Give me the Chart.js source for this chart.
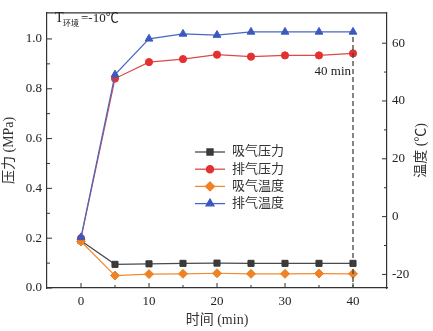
<!DOCTYPE html>
<html>
<head>
<meta charset="utf-8">
<script src="https://cdn.jsdelivr.net/npm/chart.js@4"></script>
<style>
  html, body { margin: 0; padding: 0; background: #fff; }
  #c { display: block; }
</style>
</head>
<body>
<canvas id="c" width="433" height="331"></canvas>
<script>
// data
const times = [0, 5, 10, 15, 20, 25, 30, 35, 40];
const suctionPressure = [0.19, 0.095, 0.097, 0.099, 0.1, 0.099, 0.099, 0.099, 0.099];
const dischargePressure = [0.2, 0.841, 0.907, 0.919, 0.937, 0.929, 0.934, 0.934, 0.942];
const suctionTemp = [-8.6, -20.4, -19.9, -19.8, -19.6, -19.8, -19.8, -19.7, -19.8];
const dischargeTemp = [-7.2, 49.1, 61.5, 63.2, 62.8, 63.9, 63.9, 63.9, 63.9];

const xTicks = [0, 10, 20, 30, 40];
const xMinor = [5, 15, 25, 35];
const pTicks = [0.0, 0.2, 0.4, 0.6, 0.8, 1.0];
const pMinor = [0.1, 0.3, 0.5, 0.7, 0.9];
const tTicks = [-20, 0, 20, 40, 60];
const tMinor = [-10, 10, 30, 50];

const seriesNames = ['吸气压力', '排气压力', '吸气温度', '排气温度'];

// Latin glyphs in a Times-like face, CJK falls back to Noto
const serif = '"Liberation Serif", "Times New Roman", "Noto Sans CJK SC", serif';
const cjk = '"Noto Sans CJK SC", "Liberation Serif", sans-serif';

const pts = (ys) => times.map((t, i) => ({ x: t, y: ys[i] }));

const decor = {
    id: 'decor',
    afterDraw: (chart) => {
        const ctx = chart.ctx;
        const a = chart.chartArea;
        const sx = chart.scales.x, sy = chart.scales.y, st = chart.scales.y1;
        ctx.save();
        ctx.strokeStyle = '#333';
        ctx.lineWidth = 1.2;
        // top frame line
        ctx.beginPath();
        ctx.moveTo(a.left, a.top);
        ctx.lineTo(a.right, a.top);
        ctx.stroke();

        // inward ticks
        const tick = (len, list, fn) => list.forEach(v => fn(v, len));
        ctx.lineWidth = 1;
        ctx.beginPath();
        const xt = (v, len) => { const p = sx.getPixelForValue(v); ctx.moveTo(p, a.bottom); ctx.lineTo(p, a.bottom - len); };
        const yt = (v, len) => { const p = sy.getPixelForValue(v); ctx.moveTo(a.left, p); ctx.lineTo(a.left + len, p); };
        const tt = (v, len) => { const p = st.getPixelForValue(v); ctx.moveTo(a.right, p); ctx.lineTo(a.right - len, p); };
        tick(5, xTicks, xt); tick(3, xMinor, xt);
        tick(5, pTicks, yt); tick(3, pMinor, yt);
        tick(5, tTicks, tt); tick(3, tMinor, tt);
        ctx.stroke();

        // dashed marker at 40 min
        const x40 = sx.getPixelForValue(40);
        ctx.setLineDash([5, 3]);
        ctx.lineWidth = 1.3;
        ctx.strokeStyle = '#444';
        ctx.beginPath();
        ctx.moveTo(x40, st.getPixelForValue(dischargeTemp[dischargeTemp.length - 1]) + 5);
        ctx.lineTo(x40, a.bottom);
        ctx.stroke();
        ctx.setLineDash([]);

        ctx.fillStyle = '#222';
        ctx.textBaseline = 'middle';
        ctx.textAlign = 'right';
        ctx.font = '13px ' + serif;
        ctx.fillText('40 min', x40 - 2, 72);

        // ambient temperature note
        ctx.textAlign = 'left';
        ctx.textBaseline = 'alphabetic';
        ctx.font = '14px ' + serif;
        ctx.fillText('T', 55, 22);
        ctx.font = '8px ' + cjk;
        ctx.fillText('环境', 63, 26);
        ctx.font = '13px ' + serif;
        ctx.fillText('=-10℃', 81, 22);

        // axis titles
        ctx.fillStyle = '#333';
        ctx.textAlign = 'center';
        ctx.textBaseline = 'middle';
        ctx.font = '14px ' + serif;
        ctx.fillText('时间 (min)', (a.left + a.right) / 2, 320);
        ctx.save();
        ctx.translate(9, (a.top + a.bottom) / 2);
        ctx.rotate(-Math.PI / 2);
        ctx.fillText('压力 (MPa)', 0, 0);
        ctx.restore();
        ctx.save();
        ctx.translate(421, (a.top + a.bottom) / 2);
        ctx.rotate(-Math.PI / 2);
        ctx.fillText('温度 (℃)', 0, 0);
        ctx.restore();

        // legend: line + marker + label
        const order = [3, 2, 1, 0]; // datasets are stored top-most first
        order.forEach((di, row) => {
            const ds = chart.data.datasets[di];
            const y = 152 + row * 17.2;
            ctx.strokeStyle = ds.borderColor;
            ctx.lineWidth = 1.3;
            ctx.beginPath();
            ctx.moveTo(195, y);
            ctx.lineTo(225, y);
            ctx.stroke();
            ctx.fillStyle = ds.pointBackgroundColor;
            ctx.strokeStyle = ds.pointBorderColor;
            Chart.helpers.drawPoint(ctx, {
                pointStyle: ds.pointStyle,
                radius: ds.pointRadius,
                rotation: 0,
                borderWidth: 1
            }, 210, y);
            ctx.fillStyle = '#333';
            ctx.textAlign = 'left';
            ctx.font = '13px ' + serif;
            ctx.fillText(ds.label, 232, y);
        });
        ctx.restore();
    }
};

const canvas = document.getElementById('c');
const ctx = canvas.getContext('2d');

new Chart(ctx, {
    type: 'line',
    data: {
        datasets: [
            {
                label: seriesNames[3],
                data: pts(dischargeTemp),
                yAxisID: 'y1',
                borderColor: '#4a66c4',
                pointBackgroundColor: '#3a58bd',
                pointBorderColor: '#3a58bd',
                pointStyle: 'triangle',
                pointRadius: 4.5,
            },
            {
                label: seriesNames[2],
                data: pts(suctionTemp),
                yAxisID: 'y1',
                borderColor: '#ef8c33',
                pointBackgroundColor: '#ee8225',
                pointBorderColor: '#ee8225',
                pointStyle: 'rectRot',
                pointRadius: 4.5,
            },
            {
                label: seriesNames[1],
                data: pts(dischargePressure),
                yAxisID: 'y',
                borderColor: '#dc4a48',
                pointBackgroundColor: '#e3312f',
                pointBorderColor: '#e3312f',
                pointStyle: 'circle',
                pointRadius: 3.6,
            },
            {
                label: seriesNames[0],
                data: pts(suctionPressure),
                yAxisID: 'y',
                borderColor: '#4a4a4a',
                pointBackgroundColor: '#3a3a3a',
                pointBorderColor: '#3a3a3a',
                pointStyle: 'rect',
                pointRadius: 4.3,
            },
        ].map(d => Object.assign({ borderWidth: 1.2, pointBorderWidth: 1, tension: 0, fill: false }, d))
    },
    options: {
        responsive: false,
        animation: false,
        devicePixelRatio: 1,
        layout: { padding: { top: 5, right: 0, bottom: 0, left: 0 } },
        plugins: {
            legend: { display: false },
            tooltip: { enabled: false }
        },
        scales: {
            x: {
                type: 'linear',
                min: -5,
                max: 45,
                afterBuildTicks: (s) => { s.ticks = xTicks.map(v => ({ value: v })); },
                afterFit: (s) => { s.height = 43; },
                grid: { drawOnChartArea: false, drawTicks: false },
                border: { color: '#333', width: 1.2 },
                ticks: { padding: 6, color: '#222', font: { family: serif, size: 13 }, maxRotation: 0 }
            },
            y: {
                position: 'left',
                min: 0,
                max: 1.105,
                afterBuildTicks: (s) => { s.ticks = pTicks.map(v => ({ value: v })); },
                afterFit: (s) => { s.width = 47; },
                grid: { drawOnChartArea: false, drawTicks: false },
                border: { color: '#333', width: 1.2 },
                ticks: { padding: 5, color: '#222', font: { family: serif, size: 13 }, callback: (v) => v.toFixed(1) }
            },
            y1: {
                position: 'right',
                min: -24.7,
                max: 70.5,
                afterBuildTicks: (s) => { s.ticks = tTicks.map(v => ({ value: v })); },
                afterFit: (s) => { s.width = 46; },
                grid: { drawOnChartArea: false, drawTicks: false },
                border: { color: '#333', width: 1.2 },
                ticks: { padding: 5, color: '#222', font: { family: serif, size: 13 } }
            }
        }
    },
    plugins: [decor]
});
</script>
</body>
</html>
